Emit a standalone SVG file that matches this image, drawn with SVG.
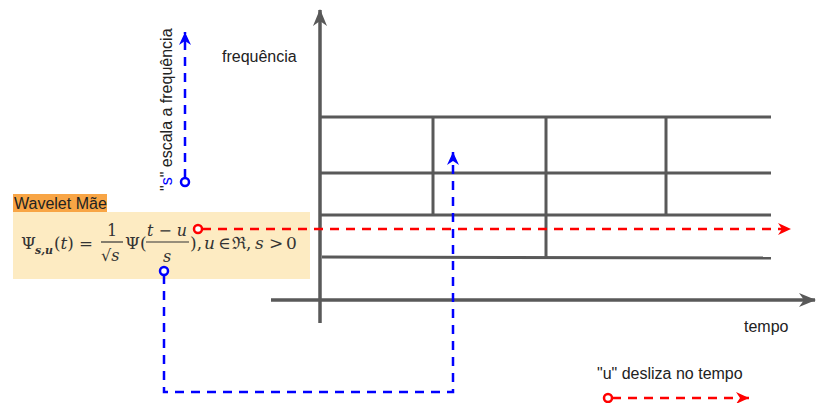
<svg xmlns="http://www.w3.org/2000/svg" width="817" height="403" viewBox="0 0 817 403">
<defs>
<marker id="ag" markerUnits="userSpaceOnUse" markerWidth="18" markerHeight="18" viewBox="0 0 18 18" refX="16" refY="9" orient="auto">
<path d="M0,2 L17,9 L0,16 L5,9 z" fill="#595959"/>
</marker>
<marker id="ab" markerUnits="userSpaceOnUse" markerWidth="14" markerHeight="14" viewBox="0 0 14 14" refX="13" refY="7" orient="auto">
<path d="M0,1 L13,7 L0,13 L4,7 z" fill="#0000ff"/>
</marker>
<marker id="ar" markerUnits="userSpaceOnUse" markerWidth="14" markerHeight="14" viewBox="0 0 14 14" refX="13" refY="7" orient="auto">
<path d="M0,1 L13,7 L0,13 L4,7 z" fill="#ff0000"/>
</marker>
</defs>
<style>
.grid{stroke:#595959;stroke-width:3;fill:none}
.axis{stroke:#595959;stroke-width:3.5;fill:none}
.blue{stroke:#0000ff;stroke-width:2.5;fill:none;stroke-dasharray:9 7}
.red{stroke:#ff0000;stroke-width:2.5;fill:none;stroke-dasharray:9 7}
.dotb{stroke:#0000ff;stroke-width:2.5;fill:#fff}
.dotr{stroke:#ff0000;stroke-width:2.5;fill:#fff}
.lbl{font-family:"Liberation Sans",Arial,sans-serif;font-size:16px;fill:#222}
.m{font-family:"DejaVu Serif","Liberation Serif",serif;fill:#333;font-style:italic;font-size:17px}
.up{font-style:normal}
</style>
<g id="formula-box">
<rect x="13" y="212" width="297" height="67" fill="#fdebc2"/>
</g>
<g id="wavelet-label">
<rect x="13" y="194" width="94" height="18" fill="#f8a545"/>
<text class="lbl" x="14" y="209">Wavelet Mãe</text>
</g>
<g id="grid">
<line class="grid" x1="320" y1="117" x2="771" y2="117"/>
<line class="grid" x1="320" y1="173" x2="771" y2="173"/>
<line class="grid" x1="320" y1="215" x2="771" y2="215"/>
<line class="grid" x1="322" y1="257" x2="771" y2="258"/>
<line class="grid" x1="433" y1="117" x2="433" y2="215"/>
<line class="grid" x1="546" y1="117" x2="546" y2="258"/>
<line class="grid" x1="666" y1="117" x2="666" y2="215"/>
</g>
<g id="axes">
<line class="axis" x1="320" y1="323" x2="320" y2="10" marker-end="url(#ag)"/>
<line class="axis" x1="271" y1="300" x2="815" y2="300" marker-end="url(#ag)"/>
<text class="lbl" x="222" y="62">frequência</text>
<text class="lbl" x="744" y="332">tempo</text>
</g>
<g id="formula">
<text class="m up" x="21" y="249">Ψ</text>
<text class="m" x="35" y="254" style="font-size:11px;font-weight:bold">s,u</text>
<text class="m" x="54" y="249" textLength="39" lengthAdjust="spacingAndGlyphs"><tspan class="up">(</tspan>t<tspan class="up">) =</tspan></text>
<text class="m up" x="112" y="236" text-anchor="middle" style="font-size:16px">1</text>
<line x1="101" y1="242" x2="123" y2="242" stroke="#333" stroke-width="1.2"/>
<text class="m" x="101" y="261" style="font-size:16px"><tspan class="up">√</tspan>s</text>
<text class="m up" x="125" y="249">Ψ(</text>
<text class="m" x="147" y="236" style="font-size:16px" textLength="40" lengthAdjust="spacingAndGlyphs">t <tspan class="up">−</tspan> u</text>
<line x1="146" y1="242" x2="189" y2="242" stroke="#333" stroke-width="1.2"/>
<text class="m" x="167" y="262" text-anchor="middle" style="font-size:16px">s</text>
<text class="m up" x="190" y="249">),</text>
<text class="m" x="204" y="249">u</text>
<text class="m up" x="218" y="249">∈</text>
<text class="m up" x="232" y="249">ℜ,</text>
<text class="m" x="255" y="249">s</text>
<text class="m up" x="269" y="249">&gt;</text>
<text class="m up" x="286" y="249">0</text>
</g>
<g id="connectors">
<path class="red" d="M202,229 L791,229" marker-end="url(#ar)"/>
<circle class="dotr" cx="198" cy="229" r="4"/>
<path class="blue" d="M164,275 L164,392 L453,392 L453,152" marker-end="url(#ab)"/>
<circle class="dotb" cx="164" cy="271" r="4"/>
<path class="blue" d="M185,178 L185,32" marker-end="url(#ab)"/>
<circle class="dotb" cx="185" cy="182" r="4"/>
<path class="red" d="M612,398 L749,398" marker-end="url(#ar)"/>
<circle class="dotr" cx="608" cy="398" r="4"/>
</g>
<g id="labels">
<text class="lbl" transform="translate(172,191) rotate(-90)">"<tspan fill="#0000ff">s</tspan>" escala a frequência</text>
<text class="lbl" x="597" y="379">"u" desliza no tempo</text>
</g>
</svg>
